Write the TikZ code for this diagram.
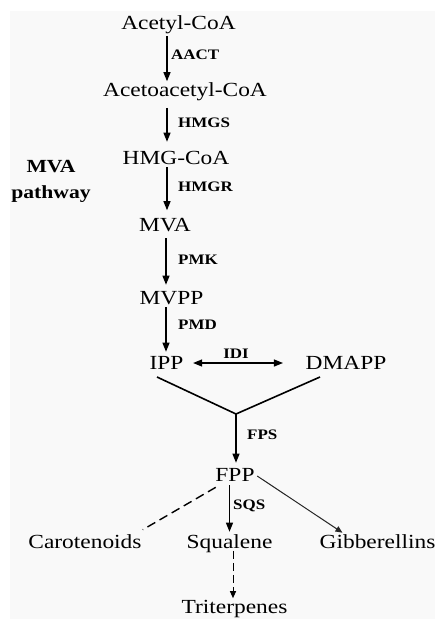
\documentclass[tikz,border=0pt]{standalone}
\usepackage{fontspec}
\setmainfont{Liberation Serif}[FakeStretch=1.17]
\usetikzlibrary{arrows.meta}
\definecolor{bgc}{RGB}{249,249,249}
\begin{document}
\begin{tikzpicture}[x=1pt,y=-1pt,
  mainlbl/.style={font=\fontsize{20}{24}\selectfont, inner sep=0pt, text height=13.2pt, text depth=0pt},
  enz/.style={font=\fontsize{14.5}{17}\selectfont\bfseries, inner sep=0pt, text height=9.8pt, text depth=0pt, anchor=west},
  arr/.style={line width=1.2pt, -{Triangle[length=9pt,width=7pt]}},
  dblarr/.style={line width=1.2pt, {Triangle[length=9pt,width=7pt]}-{Triangle[length=9pt,width=7pt]}},
  thick line/.style={line width=1.6pt},
  dashline/.style={line width=1.4pt, dash pattern=on 9pt off 5pt},
  dasharr/.style={line width=1pt, dash pattern=on 8pt off 4pt, -{Triangle[length=7pt,width=6pt]}},
  thinarr/.style={line width=1pt, draw=black!85, -{Triangle[length=7pt,width=6pt]}}
]
\useasboundingbox (0,0) rectangle (435,619);
\fill[bgc] (10,11) rectangle (435,619);

% metabolite nodes
\node[mainlbl] (acetyl) at (178.5,23) {Acetyl-CoA};
\node[mainlbl] (acetoacetyl) at (185,90) {Acetoacetyl-CoA};
\node[mainlbl] (hmgcoa) at (176,158) {HMG-CoA};
\node[mainlbl] (mva) at (165,225) {MVA};
\node[mainlbl] (mvpp) at (171.5,298) {MVPP};
\node[mainlbl] (ipp) at (166.5,363) {IPP};
\node[mainlbl] (dmapp) at (346,363) {DMAPP};
\node[mainlbl] (fpp) at (235,475) {FPP};
\node[mainlbl] (carot) at (85,542) {Carotenoids};
\node[mainlbl] (squal) at (229.5,542) {Squalene};
\node[mainlbl] (gibb) at (377.5,542) {Gibberellins};
\node[mainlbl] (trit) at (234.5,606.5) {Triterpenes};

% pathway title
\node[font=\fontsize{18.5}{26}\selectfont\bfseries, align=center, inner sep=0pt] (title) at (51,181) {MVA\\pathway};

% enzyme labels
\node[enz] (aact) at (171,55) {AACT};
\node[enz] (hmgs) at (178,123) {HMGS};
\node[enz] (hmgr) at (178,187) {HMGR};
\node[enz] (pmk) at (178,260) {PMK};
\node[enz] (pmd) at (178,325) {PMD};
\node[enz, anchor=center] (idi) at (236,354) {IDI};
\node[enz] (fps) at (247,435) {FPS};
\node[enz] (sqs) at (233,505) {SQS};

% column of the main arrows
\coordinate (col) at (167,0);
\coordinate (col2) at (166,0);

\draw[arr, shorten <=6.5pt, shorten >=2pt] (acetyl.south -| col) -- (acetoacetyl.north -| col);
\draw[arr, shorten <=11pt, shorten >=9.5pt] (acetoacetyl.south -| col) -- (hmgcoa.north -| col);
\draw[arr, shorten <=2.5pt, shorten >=8pt] (hmgcoa.south -| col) -- (mva.north -| col);
\draw[arr, shorten <=6.5pt, shorten >=6.5pt] (mva.south -| col2) -- (mvpp.north -| col2);
\draw[arr, shorten <=2.5pt, shorten >=4.5pt] (mvpp.south -| col2) -- (ipp.north -| col2);

% IDI
\draw[dblarr, shorten <=9.5pt, shorten >=22.5pt] (ipp.east) -- (dmapp.west);

% condensation to FPP
\coordinate (junc) at (236,414);
\coordinate (ippout) at (157,377);
\coordinate (dmappout) at (320,377);
\draw[thick line] (ippout) -- (junc) -- (dmappout);
\draw[arr, shorten >=5.5pt] (junc) -- (fpp.north -| junc);

% branches from FPP
\draw[arr, shorten <=3.5pt, shorten >=3.5pt] (fpp.south -| squal.north) -- (squal.north);
\draw[dashline] ([shift={(0.5,5.5)}]fpp.south west) -- ([shift={(1,-5.5)}]carot.north east);
\draw[thinarr] ([shift={(2.5,1)}]fpp.east) -- ([shift={(23,-2.5)}]gibb.north west);
\draw[dasharr, shorten <=2pt, shorten >=1.5pt] (squal.south -| trit.north) ++(-1.5,0) coordinate (sqb) (sqb) -- (trit.north -| sqb);
\end{tikzpicture}
\end{document}
